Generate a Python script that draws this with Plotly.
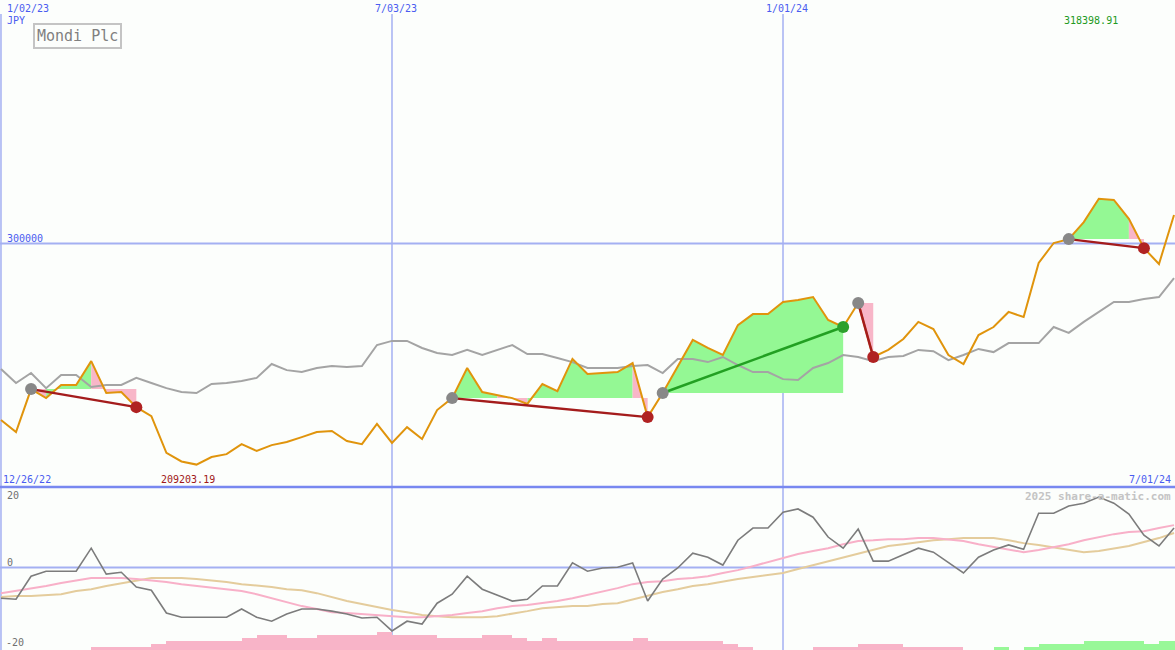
import pandas as pd
import plotly.graph_objects as go

# ---------------- data ----------------
start_date = "2023-01-02"
n_weeks = 79
dates = list(pd.date_range(start_date, periods=n_weeks, freq="7D"))

price = [227500, 222600, 240200, 236500, 241900, 241900, 251700, 238600, 239000, 232800,
         229100, 214000, 210500, 209203.19, 212300, 213500, 217600, 214800, 217200, 218500,
         220500, 222600, 223000, 218900, 217600, 225900, 218100, 224600, 219700, 231600,
         236500, 248900, 239000, 237800, 236500, 234100, 242300, 239400, 252600, 246400,
         246800, 247200, 250900, 228700, 238600, 249700, 260400, 257100, 254200, 266500,
         271000, 271000, 276000, 276800, 278000, 268600, 265700, 275600, 253400, 256300,
         260800, 267800, 264900, 254200, 250500, 262400, 265700, 271900, 269800, 292000,
         300200, 301800, 308800, 318398.91, 317900, 310100, 298100, 291600, 311700]

avg_line = [248500, 242700, 246800, 240600, 246000, 246000, 241100, 241900, 241900, 244800,
            242700, 240600, 239000, 238600, 242300, 242700, 243500, 244800, 250500, 248000,
            247200, 248900, 249700, 249300, 249700, 258300, 260000, 260000, 257100, 255000,
            254200, 256300, 254200, 256300, 258300, 254600, 254600, 253000, 251300, 248900,
            248900, 248900, 249700, 250100, 246800, 252600, 252600, 251300, 253400, 250100,
            247200, 247200, 244300, 243900, 248900, 250900, 254200, 253400, 251700, 253400,
            253800, 256300, 255800, 252100, 254200, 256700, 255400, 259100, 259100, 259100,
            265700, 263300, 267800, 271900, 276000, 276000, 277200, 278000, 285800]

# trades: (entry index, exit index)
trades = [(2, 9), (30, 43), (44, 56), (57, 58), (71, 76)]

momentum = [-8.5, -8.8, -2.4, -1.0, -1.0, -1.0, 5.4, -1.8, -1.3, -5.4,
            -6.3, -12.6, -13.8, -13.8, -13.8, -13.8, -11.5, -13.8, -14.9, -12.9,
            -11.5, -11.5, -12.1, -12.9, -14.0, -13.8, -17.6, -14.9, -15.7, -9.9,
            -7.4, -2.4, -6.0, -7.6, -9.3, -8.8, -5.1, -5.1, 1.3, -1.0,
            -0.1, 0.1, 1.3, -9.3, -3.2, -0.1, 4.0, 2.9, 0.7, 7.6,
            11.0, 11.0, 15.4, 16.3, 14.0, 8.5, 5.4, 10.7, 1.8, 1.8,
            3.5, 5.4, 4.3, 1.5, -1.5, 2.9, 4.9, 6.3, 5.1, 15.1,
            15.1, 17.1, 17.9, 19.6, 17.9, 14.9, 9.0, 6.0, 11.0]

pink_avg = [-7.1, -6.5, -5.7, -5.1, -4.3, -3.5, -2.9, -2.9, -2.9, -3.2,
            -3.5, -4.0, -4.6, -5.1, -5.4, -6.0, -6.5, -7.4, -8.5, -9.6,
            -10.7, -11.5, -12.4, -12.6, -12.9, -13.2, -13.5, -13.8, -13.8, -13.5,
            -13.2, -12.6, -12.1, -11.3, -10.7, -10.4, -9.9, -9.3, -8.5, -7.6,
            -6.8, -5.7, -4.6, -4.0, -3.8, -3.2, -2.9, -2.4, -1.5, -0.7,
            0.4, 1.5, 2.6, 3.8, 4.6, 5.4, 6.5, 7.4, 7.6, 7.9,
            7.9, 8.2, 8.2, 7.9, 7.4, 6.5, 5.7, 4.9, 4.3, 4.9,
            5.7, 6.5, 7.6, 8.5, 9.3, 9.9, 10.1, 11.0, 11.8]

tan_avg = [-8.2, -7.9, -7.9, -7.6, -7.4, -6.5, -6.0, -5.1, -4.3, -3.5,
           -2.9, -2.9, -2.9, -3.2, -3.5, -4.0, -4.6, -4.9, -5.4, -6.0,
           -6.3, -7.1, -8.2, -9.3, -10.1, -11.0, -11.8, -12.4, -13.2, -13.5,
           -13.8, -13.8, -13.8, -13.5, -12.9, -12.1, -11.3, -11.0, -10.7, -10.7,
           -10.1, -9.9, -8.8, -7.9, -6.8, -6.0, -5.1, -4.6, -3.8, -3.2,
           -2.6, -2.1, -1.5, -0.4, 0.7, 1.8, 2.9, 4.0, 4.9, 6.0,
           6.5, 7.1, 7.6, 7.9, 8.2, 8.2, 8.2, 7.6, 6.8, 6.3,
           5.7, 4.9, 4.3, 4.6, 5.4, 6.0, 7.1, 8.2, 9.6]

strength = [0, 0, 0, 0, 0, 0, -1, -1, -1, -1,
            -2, -3, -3, -3, -3, -3, -4, -5, -5, -4,
            -4, -5, -5, -5, -5, -6, -5, -5, -5, -4,
            -4, -4, -5, -5, -4, -3, -4, -3, -3, -3,
            -3, -3, -4, -3, -3, -3, -3, -3, -2, -1,
            0, 0, 0, 0, -1, -1, -1, -2, -2, -2,
            -1, -1, -1, -1, 0, 0, 1, 0, 1, 2,
            2, 2, 3, 3, 3, 3, 2, 3, 3]

grid_dates = ["2023-01-02", "2023-07-03", "2024-01-01"]
ref_level = 300000
top_labels = ["1/02/23", "7/03/23", "1/01/24"]
first_label = "12/26/22"
last_label = "7/01/24"
title = "Mondi Plc"
currency = "JPY"

# ---------------- styling ----------------
W, H = 1175, 650
BG = "#fcfefc"
BLUE_TXT = "#4a5cf0"
GRID = "#a4b0f2"
ORANGE = "#e0940c"
MONO = "DejaVu Sans Mono"
split = 163 / 650  # lower panel height fraction


def px(xp):
    return xp / W


def py(yp):
    return 1 - yp / H


fig = go.Figure()

# --- trade fills (per segment, colour by whether segment end is above entry) ---
gx, gy, rx, ry = [], [], [], []
for e, x in trades:
    lvl = price[e]
    for k in range(e, x):
        poly_x = [dates[k], dates[k], dates[k + 1], dates[k + 1], dates[k], None]
        poly_y = [lvl, price[k], price[k + 1], lvl, lvl, None]
        if price[k + 1] > lvl:
            gx += poly_x; gy += poly_y
        else:
            rx += poly_x; ry += poly_y
fig.add_trace(go.Scatter(x=gx, y=gy, mode="none", fill="toself",
                         fillcolor="#94f894", hoverinfo="skip", showlegend=False))
fig.add_trace(go.Scatter(x=rx, y=ry, mode="none", fill="toself",
                         fillcolor="#f8b6c8", hoverinfo="skip", showlegend=False))

# --- moving average and price ---
fig.add_trace(go.Scatter(x=dates, y=avg_line, mode="lines",
                         line=dict(color="#a4a4a4", width=2), showlegend=False))
fig.add_trace(go.Scatter(x=dates, y=price, mode="lines",
                         line=dict(color=ORANGE, width=2), showlegend=False))

# --- trade connector lines and markers ---
for e, x in trades:
    win = price[x] > price[e]
    col = "#22a022" if win else "#a41c1c"
    fig.add_trace(go.Scatter(x=[dates[e], dates[x]], y=[price[e], price[x]], mode="lines",
                             line=dict(color=col, width=2.5), showlegend=False))
for e, x in trades:
    win = price[x] > price[e]
    fig.add_trace(go.Scatter(x=[dates[e]], y=[price[e]], mode="markers",
                             marker=dict(color="#888888", size=12), showlegend=False))
    fig.add_trace(go.Scatter(x=[dates[x]], y=[price[x]], mode="markers",
                             marker=dict(color="#2ca02c" if win else "#b02222", size=12),
                             showlegend=False))

# --- lower panel: strength bars ---
week_ms = 7 * 86400000
fig.add_trace(go.Bar(x=dates, y=[abs(v) for v in strength],
                     marker=dict(color=["#98f898" if v > 0 else "#f8b4c8" for v in strength],
                                 line=dict(width=0)),
                     width=week_ms, offset=0, yaxis="y3", showlegend=False))

fig.add_trace(go.Scatter(x=dates, y=tan_avg, mode="lines", yaxis="y2",
                         line=dict(color="#e4cc9c", width=2), showlegend=False))
fig.add_trace(go.Scatter(x=dates, y=pink_avg, mode="lines", yaxis="y2",
                         line=dict(color="#f8b0c8", width=2), showlegend=False))
fig.add_trace(go.Scatter(x=dates, y=momentum, mode="lines", yaxis="y2",
                         line=dict(color="#7c7c7c", width=1.6), showlegend=False))

# ---------------- shapes ----------------
shapes = []
for d in grid_dates:
    shapes.append(dict(type="line", xref="x", yref="paper", x0=d, x1=d,
                       y0=0, y1=py(14), line=dict(color=GRID, width=1.5), layer="below"))
shapes.append(dict(type="line", xref="paper", yref="y", x0=0, x1=1,
                   y0=ref_level, y1=ref_level, line=dict(color=GRID, width=2), layer="below"))
shapes.append(dict(type="line", xref="paper", yref="y2", x0=0, x1=1,
                   y0=0, y1=0, line=dict(color=GRID, width=2), layer="below"))
shapes.append(dict(type="line", xref="paper", yref="paper", x0=0, x1=1,
                   y0=split, y1=split, line=dict(color="#7888f0", width=2.5)))

# ---------------- annotations ----------------
def ann(text, xp, yp, color, size=10, xanchor="left", **kw):
    return dict(text=text, x=px(xp), y=py(yp), xref="paper", yref="paper",
                showarrow=False, xanchor=xanchor, yanchor="middle",
                font=dict(family=MONO, size=size, color=color), **kw)

annotations = []
for lab, d in zip(top_labels, grid_dates):
    annotations.append(dict(text=lab, x=d, y=py(8), xref="x", yref="paper", showarrow=False,
                            xanchor="center", yanchor="middle", xshift=4,
                            font=dict(family=MONO, size=10, color=BLUE_TXT)))
# first top label sits to the right of the left edge
annotations[0].update(xanchor="left", xshift=4)
annotations += [
    ann(currency, 5, 20, BLUE_TXT),
    ann(f"{ref_level}", 5, 238, BLUE_TXT),
    ann(first_label, 1, 479, BLUE_TXT),
    ann(last_label, 1173, 479, BLUE_TXT, xanchor="right"),
    ann(f"{min(price):.2f}", 159, 479, "#a01818"),
    ann(f"{max(price):.2f}", 1062, 21, "#229a22"),
    ann("<b>2025 share-a-matic.com</b>", 1173, 496, "#c4c4c4", size=11, xanchor="right"),
    ann("20", 5, 495, "#707070"),
    ann("0", 5, 562, "#707070"),
    ann("-20", 4, 642, "#707070"),
    ann(title, 78, 36, "#808080", size=15, xanchor="center",
        bordercolor="#c4c4c4", borderwidth=2, borderpad=2),
]

x0 = pd.Timestamp(start_date) - pd.Timedelta(hours=11)
x1 = dates[-1] + pd.Timedelta(hours=11)

fig.update_layout(
    width=W, height=H,
    margin=dict(l=0, r=0, t=0, b=0),
    paper_bgcolor=BG, plot_bgcolor=BG,
    showlegend=False,
    bargap=0,
    xaxis=dict(range=[x0, x1], visible=False, showgrid=False, zeroline=False),
    yaxis=dict(domain=[split, 1], range=[200000, 400000], visible=False,
               showgrid=False, zeroline=False),
    yaxis2=dict(domain=[0, split], range=[-22.9, 22.4], visible=False,
                showgrid=False, zeroline=False),
    yaxis3=dict(overlaying="y2", range=[0, 163 / 3], visible=False,
                showgrid=False, zeroline=False),
    shapes=shapes,
    annotations=annotations,
)

fig.write_html(
    "out.html",
    config={"displayModeBar": False},
    post_script="document.body.style.margin='0';document.body.style.overflow='hidden';"
                "document.body.style.background='" + BG + "';",
)
